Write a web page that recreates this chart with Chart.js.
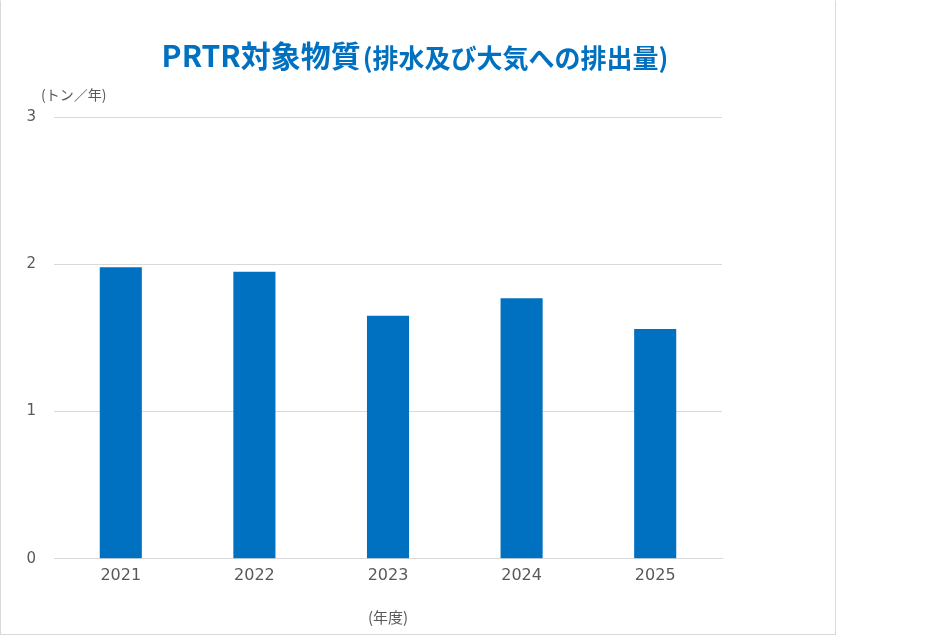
<!DOCTYPE html>
<html><head><meta charset="utf-8">
<script src="https://cdn.jsdelivr.net/npm/chart.js@4"></script>
<style>
html,body{margin:0;padding:0;background:#fff;}
#box{position:absolute;left:0;top:0;width:836px;height:635px;border:1px solid #d9d9d9;border-top-color:#fff;box-sizing:border-box;}
canvas{display:block;}
</style></head><body>
<div id="box"><canvas id="c" width="834" height="633"></canvas></div>
<script>
const categories = ["2021","2022","2023","2024","2025"];
const emissions = [1.98, 1.95, 1.65, 1.77, 1.56];
const yTicks = [0, 1, 2, 3];
const titleMain = "PRTR対象物質";
const titleSub = "(排水及び大気への排出量)";
const unitLabel = "(トン／年)";
const xTitle = "(年度)";

const FONT = "'Noto Sans CJK JP', 'Noto Sans', sans-serif";
const NUMFONT = "'DejaVu Sans', sans-serif";

const titlePlugin = {
  id: 'twoPartTitle',
  afterDraw(chart) {
    const ctx = chart.ctx;
    ctx.save();
    ctx.fillStyle = '#0070C0';
    ctx.textBaseline = 'middle';
    const f1 = "bold 30px " + FONT;
    const f2 = "bold 26px " + FONT;
    ctx.font = f1; const w1 = ctx.measureText(titleMain).width;
    ctx.font = f2; const w2 = ctx.measureText(titleSub).width;
    const cx = 413;
    let x = cx - (w1 + w2) / 2;
    ctx.textAlign = 'left';
    ctx.font = f1; ctx.fillText(titleMain, x, 55);
    ctx.font = f2; ctx.fillText(titleSub, x + w1 + 2, 57);
    ctx.font = "14px " + FONT;
    ctx.fillStyle = '#595959';
    ctx.fillText(unitLabel, 40, 94);
    ctx.restore();
  }
};

new Chart(document.getElementById('c'), {
  type: 'bar',
  data: {
    labels: categories,
    datasets: [{
      data: emissions,
      backgroundColor: '#0070C0',
      borderWidth: 0,
      barPercentage: 0.63,
      categoryPercentage: 0.5
    }]
  },
  options: {
    responsive: false,
    animation: false,
    layout: { padding: { left: 0, right: 113, top: 116, bottom: 8 } },
    plugins: { legend: { display: false }, tooltip: { enabled: false } },
    scales: {
      x: {
        grid: { display: false, drawTicks: false },
        border: { color: '#d9d9d9', width: 1 },
        ticks: { color: '#595959', font: { family: NUMFONT, size: 16 }, padding: 7 },
        title: { display: true, text: xTitle, color: '#595959', font: { family: FONT, size: 15 }, padding: { top: 16, bottom: 0 } }
      },
      y: {
        min: 0, max: 3,
        afterFit(scale) { scale.width = 53; },
        afterBuildTicks(scale) { scale.ticks = yTicks.map(v => ({ value: v })); },
        grid: { color: '#d9d9d9', lineWidth: 1, drawTicks: false },
        border: { display: false },
        ticks: { color: '#595959', font: { family: NUMFONT, size: 15 }, padding: 18 }
      }
    }
  },
  plugins: [titlePlugin]
});
</script></body></html>
